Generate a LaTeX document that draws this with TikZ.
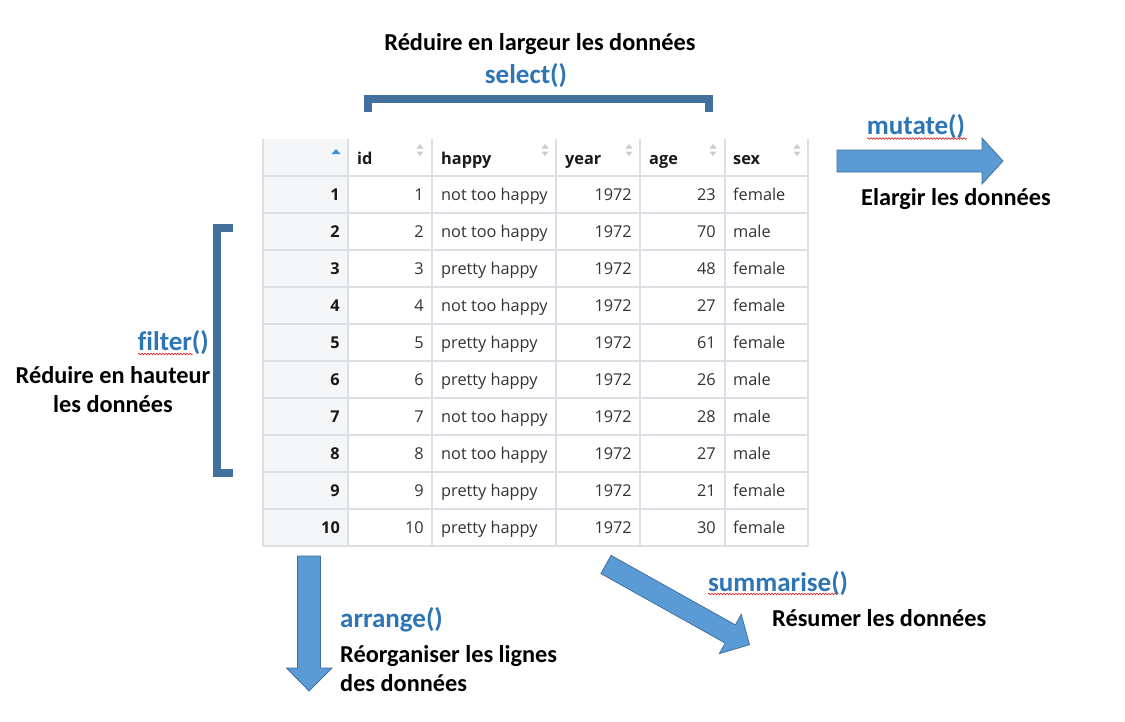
\documentclass[tikz,border=0pt]{standalone}
\usepackage{fontspec}
\setmainfont{Carlito}
\newfontfamily\tabfont{Open Sans}
\usetikzlibrary{decorations.pathmorphing}
\definecolor{fblue}{HTML}{2E75B6}
\definecolor{brk}{HTML}{41719C}
\definecolor{afill}{HTML}{5B9BD5}
\definecolor{grid}{HTML}{DCDFE3}
\definecolor{colbg}{HTML}{F4F6F8}
\definecolor{tabtxt}{HTML}{333333}
\definecolor{sorticon}{HTML}{C9CDD1}
\definecolor{sortblue}{HTML}{3A8FDB}
\tikzset{
  lbl/.style={inner sep=0pt, font=\fontsize{24.3}{29}\selectfont\bfseries, text=black},
  fn/.style={inner sep=0pt, font=\fontsize{27}{32}\selectfont\bfseries, text=fblue},
  cell/.style={inner sep=0pt, font=\tabfont\fontsize{16.3}{18}\selectfont, text=tabtxt},
  hcell/.style={inner sep=0pt, font=\tabfont\fontsize{16.3}{18}\selectfont\bfseries, text=black!90},
  gridline/.style={draw=grid, line width=1.6pt},
  bracket/.style={draw=brk, line width=7.7pt},
  blockarrow/.style={fill=afill, draw=brk, line width=0.8pt, line join=miter},
  squiggle/.style={draw=red!85!black, line width=0.5pt, decorate, decoration={snake, amplitude=0.9pt, segment length=3pt}}
}
\begin{document}
\begin{tikzpicture}[x=1pt,y=-1pt]
\useasboundingbox[fill=white] (0,0) rectangle (1125,721);

% ---- table ----
\fill[colbg] (263,139) rectangle (348,546);
\foreach \xx in {263,348,432,556,640,725,808}
  \draw[gridline] (\xx,139) -- (\xx,546);
\foreach \k in {0,...,10}
  \draw[gridline] (263,176+37*\k) -- (808,176+37*\k);

% header
\node[hcell, anchor=base west] (h-id) at (357,164) {id};
\node[hcell, anchor=base west] (h-happy) at (441,164) {happy};
\node[hcell, anchor=base west] (h-year) at (565,164) {year};
\node[hcell, anchor=base west] (h-age) at (649,164) {age};
\node[hcell, anchor=base west] (h-sex) at (733,164) {sex};
% sort icons
\fill[sortblue] (331.5,154) -- (340.5,154) -- (336,149) -- cycle;
\foreach \ix in {420,545,629,713,797}{
  \fill[sorticon] (\ix-3.5,148.5) -- (\ix+3.5,148.5) -- (\ix,144) -- cycle;
  \fill[sorticon] (\ix-3.5,151.5) -- (\ix+3.5,151.5) -- (\ix,156) -- cycle;
}

% rows
\foreach \h/\a/\s [count=\i] in {
  not too happy/23/female,
  not too happy/70/male,
  pretty happy/48/female,
  not too happy/27/female,
  pretty happy/61/female,
  pretty happy/26/male,
  not too happy/28/male,
  not too happy/27/male,
  pretty happy/21/female,
  pretty happy/30/female}{
  \pgfmathsetmacro{\yy}{176+37*(\i-0.5)+6}
  \node[hcell, anchor=base east] (r\i-n) at (340,\yy) {\i};
  \node[cell, anchor=base east] (r\i-id) at (424,\yy) {\i};
  \node[cell, anchor=base west] (r\i-happy) at (441,\yy) {\h};
  \node[cell, anchor=base east] (r\i-year) at (632,\yy) {1972};
  \node[cell, anchor=base east] (r\i-age) at (716,\yy) {\a};
  \node[cell, anchor=base west] (r\i-sex) at (733,\yy) {\s};
}

% ---- select ----
\node[lbl] (selT) at (540,44) {Réduire en largeur les données};
\node[fn] (selF) at (526,76) {select()};
\draw[bracket] (367.8,112) -- (367.8,98.9) -- (708.9,98.9) -- (708.9,112);

% ---- filter ----
\draw[bracket] (233,227.9) -- (216.9,227.9) -- (216.9,473) -- (233,473);
\node[fn, anchor=east] (filF) at (209,343) {f\kern0pt ilter()};
\draw[squiggle] (138,354) -- (193,354);
\node[lbl, align=center] (filT) at (113,390) {Réduire en hauteur\\les données};

% ---- mutate ----
\node[fn] (mutF) at (916,127) {mutate()};
\draw[squiggle] (867,138.5) -- (967,138.5);
\draw[blockarrow] (837,150) -- (982,150) -- (982,138) -- (1003,161) -- (982,184) -- (982,172) -- (837,172) -- cycle;
\node[lbl] (mutT) at (956,199) {Elargir les données};

% ---- arrange ----
\draw[blockarrow] (297.5,556) -- (320.5,556) -- (320.5,668) -- (332,668) -- (309,691) -- (286.5,668) -- (297.5,668) -- cycle;
\node[fn, anchor=west] (arrF) at (340,620) {arrange()};
\node[lbl, anchor=north west, align=left] (arrT) at (340,645) {Réorganiser les lignes\\des données};

% ---- summarise ----
\begin{scope}[shift={(606,564.5)}, rotate=-29.2]
\draw[blockarrow] (0,10.4) -- (142.4,10.4) -- (142.4,22.5) -- (164.4,0) -- (142.4,-22.5) -- (142.4,-10.4) -- (0,-10.4) -- cycle;
\end{scope}
\node[fn, anchor=west] (sumF) at (708,584) {summarise()};
\draw[squiggle] (708,594) -- (837,594);
\node[lbl, anchor=west] (sumT) at (772,618) {Résumer les données};
\end{tikzpicture}
\end{document}
